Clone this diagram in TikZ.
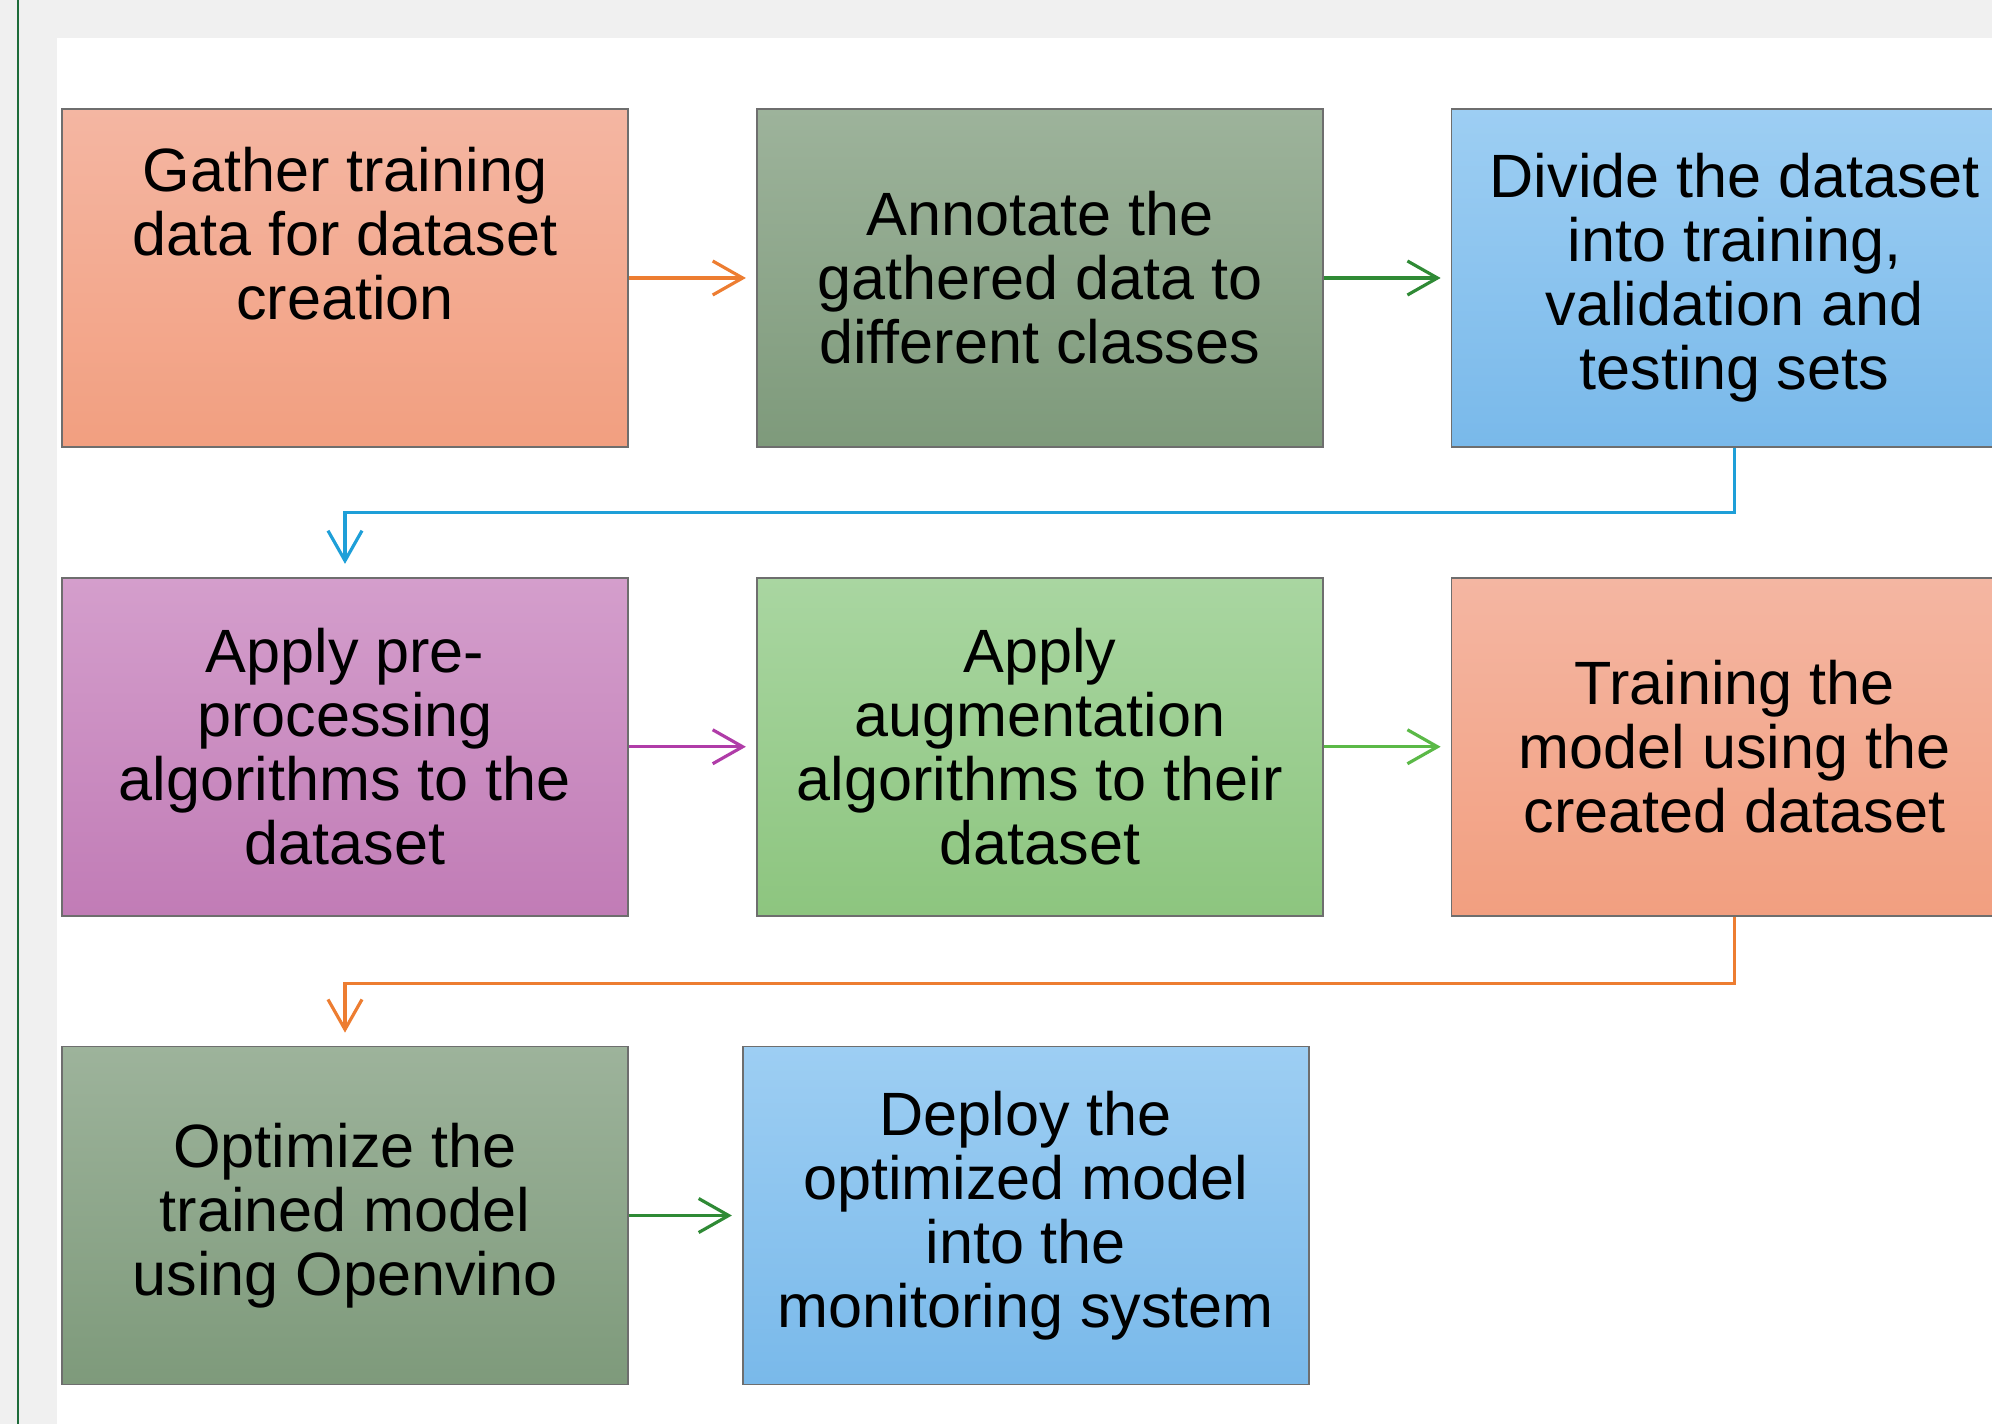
\documentclass[tikz,border=0pt]{standalone}
\usepackage{fontspec}
\setmainfont{Liberation Sans}
\usepackage{tikz}
\usetikzlibrary{positioning,arrows.meta}
\definecolor{bggray}{HTML}{F0F0F0}
\definecolor{framegreen}{HTML}{1E6B3A}
\definecolor{boxedge}{HTML}{6E6E6E}
\definecolor{salmonTop}{HTML}{F4B6A2}
\definecolor{salmonBot}{HTML}{F29F80}
\definecolor{sageTop}{HTML}{9DB39B}
\definecolor{sageBot}{HTML}{7E9A7B}
\definecolor{skyTop}{HTML}{9DCEF3}
\definecolor{skyBot}{HTML}{79B9EA}
\definecolor{plumTop}{HTML}{D49ECC}
\definecolor{plumBot}{HTML}{C17CB6}
\definecolor{leafTop}{HTML}{A9D6A1}
\definecolor{leafBot}{HTML}{8DC57F}
\definecolor{qorange}{HTML}{ED7D31}
\definecolor{qdarkgreen}{HTML}{2F8A35}
\definecolor{qblue}{HTML}{1E9FD8}
\definecolor{qpurple}{HTML}{B03CA8}
\definecolor{qgreen}{HTML}{5BB947}

\begin{document}
\begin{tikzpicture}[node distance=1.27cm,
                      box/.style={rectangle,draw=boxedge,line width=0.5pt,
                                  minimum width=5.66cm,minimum height=3.38cm,
                                  align=center,font=\fontsize{17.4}{18.2}\selectfont},
                      salmon/.style={box,top color=salmonTop,bottom color=salmonBot},
                      sage/.style={box,top color=sageTop,bottom color=sageBot},
                      sky/.style={box,top color=skyTop,bottom color=skyBot},
                      plum/.style={box,top color=plumTop,bottom color=plumBot},
                      leaf/.style={box,top color=leafTop,bottom color=leafBot},
                      arr/.style={-{Straight Barb[length=3mm,width=3.4mm]},line width=0.9pt,
                                  shorten >=0.1cm}]
    \useasboundingbox (0,0) rectangle (19.92,-14.24);
    \fill[bggray] (0,0) rectangle (19.92,-14.24);
    \fill[white] (0.57,-0.38) rectangle (19.92,-14.24);
    \draw[framegreen,line width=0.7pt] (0.18,0) -- (0.18,-14.24);

    % first row
    \node[salmon] (gather) at (3.45,-2.78) {Gather training\\data for dataset\\creation\\[0.26cm] \mbox{}};
    \node[sage,right=of gather] (annotate) {Annotate the\\gathered data to\\different classes};
    \node[sky,right=of annotate] (divide) {Divide the dataset\\into training,\\validation and\\testing sets};
    % second row
    \node[plum,below=1.29cm of gather] (preproc) {Apply pre-\\processing\\algorithms to the\\dataset};
    \node[leaf,right=of preproc] (augment) {Apply\\augmentation\\algorithms to their\\dataset};
    \node[salmon,right=of augment] (train) {Training the\\model using the\\created dataset};
    % third row
    \node[sage,below=1.29cm of preproc] (optimize) {Optimize the\\trained model\\using Openvino};
    \node[sky,right=1.13cm of optimize] (deploy) {Deploy the\\optimized model\\into the\\monitoring system};

    \draw[arr,qorange] (gather) -- (annotate);
    \draw[arr,qdarkgreen] (annotate) -- (divide);
    \draw[arr,qblue,shorten >=0.13cm] (divide.south) -- ++(0,-0.65) -| (preproc.north);
    \draw[arr,qpurple] (preproc) -- (augment);
    \draw[arr,qgreen] (augment) -- (train);
    \draw[arr,qorange,shorten >=0.13cm] (train.south) -- ++(0,-0.67) -| (optimize.north);
    \draw[arr,qdarkgreen] (optimize) -- (deploy);
  \end{tikzpicture}
\end{document}
